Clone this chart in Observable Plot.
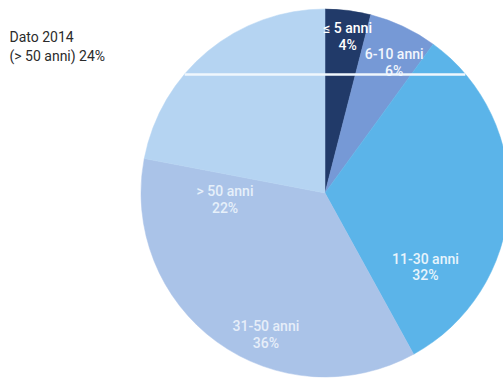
<!DOCTYPE html>
<html>
<head>
<meta charset="utf-8">
<script src="https://cdn.jsdelivr.net/npm/d3@7"></script>
<script src="https://cdn.jsdelivr.net/npm/@observablehq/plot@0.6"></script>
<style>
  html, body { margin: 0; padding: 0; background: #fff; }
  #chart { width: 503px; height: 380px; overflow: hidden; position: relative; }
</style>
</head>
<body>
<div id="chart"></div>
<script>
// ---- data ----
const categories = ["≤ 5 anni", "6-10 anni", "11-30 anni", "31-50 anni", "> 50 anni"];
const shares = [4, 6, 32, 36, 22];
const note = ["Dato 2014", "(> 50 anni) 24%"];

// ---- style / layout ----
const colors = ["#213a69", "#7699d6", "#5bb4e9", "#aac3e8", "#b5d4f2"];
const labelColors = ["#ffffff", "#f2f6fd", "#e8f4fc", "#e6eef9", "#e6f0fa"];
// label anchors in unit-circle coordinates (x right, y up)
const labelAt = [[0.12, 0.857], [0.373, 0.713], [0.543, -0.397], [-0.324, -0.764], [-0.546, -0.03]];
const foldY = 0.647; // pale scan fold across the top of the disc

const pie = d3.pie().sort(null).value(d => d.share)(
  categories.map((c, i) => ({category: c, share: shares[i]}))
);
const slices = pie.map((p, i) => ({...p, color: colors[i]}));
const labels = categories.map((c, i) => ({
  text: `${c}\n${shares[i]}%`,
  x: labelAt[i][0], y: labelAt[i][1], color: labelColors[i]
}));

const pieMark = (index, scales) => {
  const cx = scales.x(0), cy = scales.y(0);
  const r = scales.x(1) - scales.x(0);
  const g = d3.create("svg:g").attr("transform", `translate(${cx},${cy})`);
  const arc = d3.arc().innerRadius(0).outerRadius(r);
  g.selectAll("path").data(slices).join("path")
    .attr("d", arc)
    .attr("fill", d => d.color)
    .attr("stroke", d => d.color)
    .attr("stroke-width", 0.5);
  return g.node();
};

const half = Math.sqrt(1 - foldY * foldY);

const chart = Plot.plot({
  width: 503,
  height: 380,
  margin: 0,
  x: {domain: [-1, 1], range: [141, 509], axis: null},
  y: {domain: [-1, 1], range: [377, 9], axis: null},
  style: {background: "#fff", overflow: "hidden"},
  marks: [
    pieMark,
    Plot.ruleY([foldY], {x1: -half, x2: half, stroke: "#f0f7fd", strokeWidth: 2.5}),
    Plot.text(labels, {
      x: "x", y: "y", text: "text", fill: "color",
      fontSize: 14, fontWeight: 500, lineHeight: 1.2, lineAnchor: "middle", textAnchor: "middle",
      fontFamily: "Roboto, sans-serif"
    }),
    Plot.text([note.join("\n")], {
      frameAnchor: "top-left", dx: 9, dy: 29, lineAnchor: "top", textAnchor: "start",
      fontSize: 14, lineHeight: 1.3, fill: "#2b2b2b",
      fontFamily: "Roboto, 'Liberation Sans', sans-serif"
    })
  ]
});

document.getElementById("chart").appendChild(chart);
</script>
</body>
</html>
